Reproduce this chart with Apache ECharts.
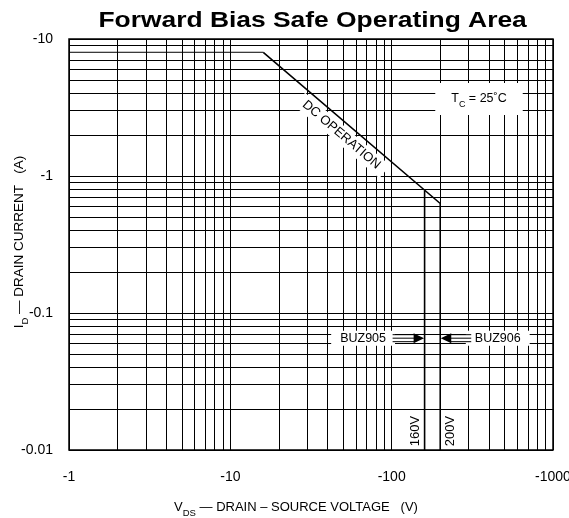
<!DOCTYPE html>
<html><head><meta charset="utf-8">
<script src="https://cdn.jsdelivr.net/npm/echarts@6/dist/echarts.min.js"></script>
<style>html,body{margin:0;padding:0;background:#fff}#c{width:569px;height:518px}</style>
</head><body><div id="c"></div>
<script>
// ---- data ----
const xTickLabels = ['-1', '-10', '-100', '-1000'];
const yTickLabels = ['-0.01', '-0.1', '-1', '-10'];
const xDecades = [-1, -10, -100];
const yDecades = [-0.01, -0.1, -1];
const mantissas = [1, 2, 3, 4, 5, 6, 7, 8, 9];
// DC operation boundary (V_DS in V, I_D in A)
const dcVoltage = [-16, -200, -200];
const dcCurrent = [-8, -0.63, -0.01];
// BUZ905 160 V limit
const buz905Voltage = [-160, -160];
const buz905Current = [-0.78, -0.01];
// current limit segment at top left
const limitVoltage = [-1, -16];
const limitCurrent = [-8, -8];
// annotation values
const buz905Rating = -160;
const buz906Rating = -200;
const arrowCurrent = -0.0655;

// ---- chart ----
const FONT = '"Liberation Sans", Arial, Helvetica, sans-serif';
const abs = Math.abs;
const toPts = (xs, ys) => xs.map((v, i) => [abs(v), abs(ys[i])]);
const labelFor = (v, list) => {
  const s = list.find(t => abs(abs(parseFloat(t)) - v) <= 1e-6 * v);
  return s || '';
};
const vGrid = [];
xDecades.forEach(d => mantissas.forEach(m => vGrid.push(abs(d) * m)));
vGrid.push(abs(xDecades[xDecades.length - 1]) * 10);
const hGrid = [];
yDecades.forEach(d => mantissas.forEach(m => hGrid.push(abs(d) * m)));
hGrid.push(abs(yDecades[yDecades.length - 1]) * 10);
const hGridShown = hGrid.filter(v => abs(v - abs(limitCurrent[0])) > 1e-9);

const chart = echarts.init(document.getElementById('c'), null, {renderer: 'canvas'});
const gridLineStyle = {color: '#000', width: 1, type: 'solid'};
const option = {
  animation: false,
  backgroundColor: '#fff',
  grid: {left: 69, right: 16, top: 39, bottom: 68, show: true, borderColor: '#000', borderWidth: 1.5,
    containLabel: false, outerBoundsMode: 'none'},
  xAxis: {
    type: 'log', logBase: 10, min: 1, max: 1000,
    axisLine: {show: false}, axisTick: {show: false}, splitLine: {show: false},
    axisLabel: {margin: 20, color: '#000', fontSize: 14, fontFamily: FONT,
      formatter: v => labelFor(v, xTickLabels)}
  },
  yAxis: {
    type: 'log', logBase: 10, min: 0.01, max: 10,
    axisLine: {show: false}, axisTick: {show: false}, splitLine: {show: false},
    axisLabel: {margin: 16, color: '#000', fontSize: 14, fontFamily: FONT,
      formatter: v => labelFor(v, yTickLabels)}
  },
  series: [
    {
      type: 'line', data: [[1, 0.01]], symbol: 'none', showSymbol: false, silent: true, z: 1,
      lineStyle: {width: 0},
      markLine: {
        silent: true, symbol: ['none', 'none'], label: {show: false}, animation: false,
        lineStyle: gridLineStyle, emphasis: {disabled: true},
        data: vGrid.map(v => ({xAxis: v})).concat(hGridShown.map(v => ({yAxis: v})))
      }
    },
    {
      type: 'line', data: toPts(limitVoltage, limitCurrent), symbol: 'none', silent: true, z: 2,
      lineStyle: {color: '#000', width: 1}
    },
    {
      type: 'line', data: toPts(dcVoltage, dcCurrent), symbol: 'none', silent: true, z: 3,
      lineStyle: {color: '#000', width: 1.6}
    },
    {
      type: 'line', data: toPts(buz905Voltage, buz905Current), symbol: 'none', silent: true, z: 3,
      lineStyle: {color: '#000', width: 1.6}
    }
  ]
};
chart.setOption(option);

const px = (v, i) => chart.convertToPixel({gridIndex: 0}, [abs(v), abs(i)]);
const G = [];
// title
G.push({type: 'text', x: 312.6, y: 20.5, scaleX: 1.2, z: 100,
  style: {text: 'Forward Bias Safe Operating Area', fontSize: 22, fontWeight: 'bold', fontFamily: FONT,
    fill: '#000', align: 'center', verticalAlign: 'middle'}});
// axis names
const richN = (fs) => ({fontSize: fs, fontFamily: FONT, fill: '#000', lineHeight: 16, verticalAlign: 'middle'});
const richS = {fontSize: 9.5, fontFamily: FONT, fill: '#000', lineHeight: 23, verticalAlign: 'bottom'};
G.push({type: 'text', x: 19, y: 242, rotation: Math.PI / 2, z: 100,
  style: {text: '{n|I}{s|D}{n| — DRAIN CURRENT   (A)}', rich: {n: richN(13.5), s: richS},
    align: 'center', verticalAlign: 'middle'}});
G.push({type: 'text', x: 296, y: 507, z: 100,
  style: {text: '{n|V}{s|DS}{n| — DRAIN – SOURCE VOLTAGE   (V)}', rich: {n: richN(13), s: richS},
    align: 'center', verticalAlign: 'middle'}});
// T_C box
G.push({type: 'text', x: 479, y: 99, z: 100,
  style: {text: '{n|T}{s|C}{n| = 25˚C}', rich: {n: richN(12.5), s: {fontSize: 9, fontFamily: FONT, fill: '#000', lineHeight: 20, verticalAlign: 'bottom'}},
    align: 'center', verticalAlign: 'middle', backgroundColor: '#fff', padding: [6, 16, 6, 16]}});
// DC OPERATION label along the diagonal
const p1 = px(dcVoltage[0], dcCurrent[0]);
const p2 = px(dcVoltage[1], dcCurrent[1]);
const ang = Math.atan2(p2[1] - p1[1], p2[0] - p1[0]);
const t = 0.49, off = 12;
const cx = p1[0] + (p2[0] - p1[0]) * t - Math.sin(ang) * off;
const cy = p1[1] + (p2[1] - p1[1]) * t + Math.cos(ang) * off;
G.push({type: 'text', x: cx, y: cy, rotation: -ang, z: 100,
  style: {text: 'DC OPERATION', fontSize: 13, fontFamily: FONT, fill: '#000', align: 'center',
    verticalAlign: 'middle', backgroundColor: '#fff', padding: [2, 8, 2, 6]}});
// BUZ labels and arrows
const a905 = px(buz905Rating, arrowCurrent);
const a906 = px(buz906Rating, arrowCurrent);
const ay = a905[1];
G.push({type: 'text', x: a905[0] - 61.5, y: ay, z: 100,
  style: {text: 'BUZ905', fontSize: 12.5, fontFamily: FONT, fill: '#000', align: 'center',
    verticalAlign: 'middle', backgroundColor: '#fff', padding: [1, 9, 1, 9]}});
G.push({type: 'text', x: a906[0] + 57.5, y: ay, z: 100,
  style: {text: 'BUZ906', fontSize: 12.5, fontFamily: FONT, fill: '#000', align: 'center',
    verticalAlign: 'middle', backgroundColor: '#fff', padding: [1, 9, 1, 9]}});
[-3.5, 0, 3.5].forEach(d => {
  G.push({type: 'line', z: 101, shape: {x1: a905[0] - 32, y1: ay + d, x2: a905[0] - 10, y2: ay + d},
    style: {stroke: '#000', lineWidth: 1}});
  G.push({type: 'line', z: 101, shape: {x1: a906[0] + 10, y1: ay + d, x2: a906[0] + 31, y2: ay + d},
    style: {stroke: '#000', lineWidth: 1}});
});
G.push({type: 'polygon', z: 102, shape: {points: [[a905[0] - 0.5, ay], [a905[0] - 11, ay - 5], [a905[0] - 11, ay + 5]]},
  style: {fill: '#000'}});
G.push({type: 'polygon', z: 102, shape: {points: [[a906[0] + 0.5, ay], [a906[0] + 11, ay - 5], [a906[0] + 11, ay + 5]]},
  style: {fill: '#000'}});
// voltage rating labels
const bottomY = px(buz905Voltage[1], buz905Current[1])[1];
G.push({type: 'text', x: a905[0] - 9, y: bottomY - 19, rotation: Math.PI / 2, z: 100,
  style: {text: '160V', fontSize: 13, fontFamily: FONT, fill: '#000', align: 'center', verticalAlign: 'middle'}});
G.push({type: 'text', x: a906[0] + 10, y: bottomY - 19, rotation: Math.PI / 2, z: 100,
  style: {text: '200V', fontSize: 13, fontFamily: FONT, fill: '#000', align: 'center', verticalAlign: 'middle'}});

chart.setOption({graphic: {elements: G}});
</script>
</body></html>
